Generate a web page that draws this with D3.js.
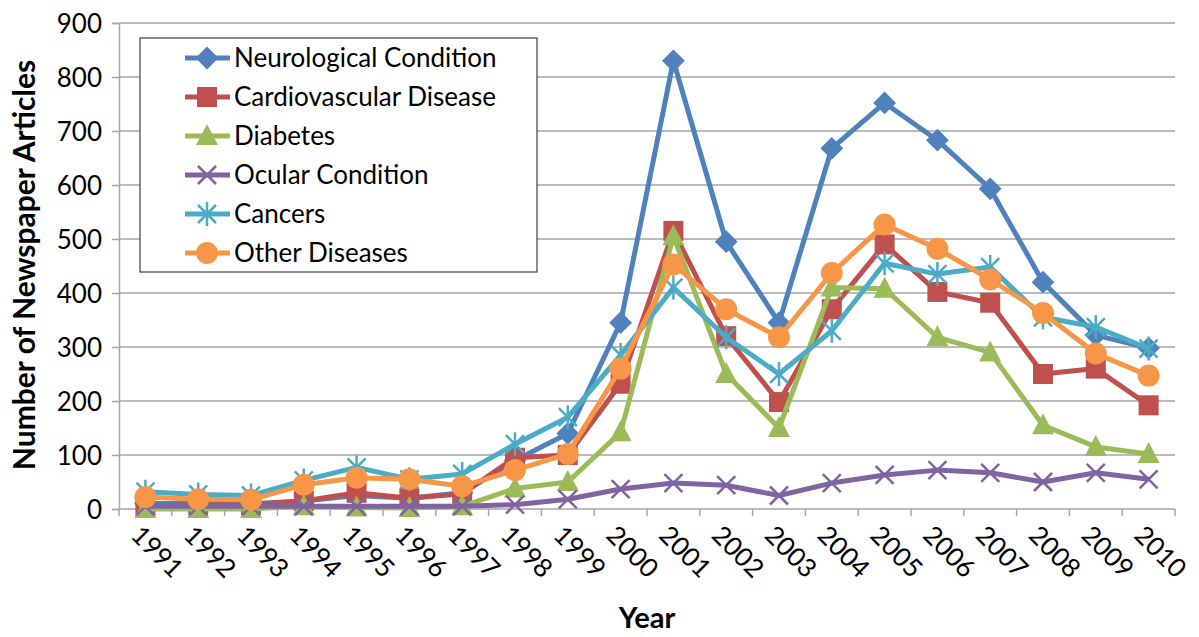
<!DOCTYPE html>
<html>
<head>
<meta charset="utf-8">
<script src="https://cdn.jsdelivr.net/npm/d3@7"></script>
<style>
  body { margin: 0; background: #fff; }
  text { font-family: Lato, "Open Sans", sans-serif; fill: #000; }
</style>
</head>
<body>
<div id="chart-area"></div>
<script>
// data
var years = ["1991","1992","1993","1994","1995","1996","1997","1998","1999","2000",
             "2001","2002","2003","2004","2005","2006","2007","2008","2009","2010"];
var neuro    = [10,10,10,15,25,20,30,90,140,345,830,495,345,668,752,683,593,420,322,298];
var cardio   = [5,8,8,15,30,20,28,95,100,232,515,320,198,370,490,402,382,250,260,192];
var diabetes = [0,0,0,5,3,2,5,38,50,142,505,250,150,410,408,318,290,155,115,102];
var ocular   = [5,5,5,5,5,5,5,8,18,37,48,44,25,48,63,72,67,50,67,55];
var cancers  = [32,27,25,53,77,55,65,120,170,285,410,318,250,330,455,435,448,355,337,297];
var other    = [22,18,17,45,58,55,42,72,102,260,453,370,318,437,527,482,425,363,288,247];
var yTicks = [0,100,200,300,400,500,600,700,800,900];

var series = [
  {name: "Neurological Condition", values: neuro,    color: "#4F81BD", marker: "diamond"},
  {name: "Cardiovascular Disease", values: cardio,   color: "#C0504D", marker: "square"},
  {name: "Diabetes",               values: diabetes, color: "#9BBB59", marker: "triangle"},
  {name: "Ocular Condition",       values: ocular,   color: "#8064A2", marker: "x"},
  {name: "Cancers",                values: cancers,  color: "#4BACC6", marker: "star"},
  {name: "Other Diseases",         values: other,    color: "#F79646", marker: "circle"}
];

var width = 1199, height = 637;
var pLeft = 119, pRight = 1175, pTop = 23, pBottom = 509;

var svg = d3.select("#chart-area").append("svg")
  .attr("width", width)
  .attr("height", height);

var x = d3.scaleBand().domain(years).range([pLeft, pRight]);
var y = d3.scaleLinear().domain([0, 900]).range([pBottom, pTop]);

// gridlines
svg.append("g").selectAll("line")
  .data(yTicks.slice(1))
  .enter().append("line")
    .attr("x1", pLeft).attr("x2", pRight)
    .attr("y1", function(d){ return y(d); })
    .attr("y2", function(d){ return y(d); })
    .style("stroke", "#a6a6a6")
    .style("stroke-width", 1.5);

// y axis
var yAxis = svg.append("g")
  .attr("transform", "translate(" + pLeft + ",0)")
  .call(d3.axisLeft(y).tickValues(yTicks).tickSize(7).tickPadding(10));
yAxis.selectAll("text").style("font-size", "26px").attr("dy", "0.35em");
yAxis.select(".domain").style("stroke", "#a6a6a6").style("stroke-width", 1.5);
yAxis.selectAll(".tick line").style("stroke", "#a6a6a6").style("stroke-width", 1.5);

// x axis, ticks between categories
var xAxis = svg.append("g")
  .attr("transform", "translate(0," + pBottom + ")");
xAxis.append("line")
  .attr("x1", pLeft).attr("x2", pRight)
  .style("stroke", "#a6a6a6").style("stroke-width", 1.5);
xAxis.selectAll(".tk")
  .data(d3.range(years.length + 1))
  .enter().append("line")
    .attr("class", "tk")
    .attr("x1", function(i){ return pLeft + i * x.bandwidth(); })
    .attr("x2", function(i){ return pLeft + i * x.bandwidth(); })
    .attr("y1", 0).attr("y2", 7)
    .style("stroke", "#a6a6a6").style("stroke-width", 1.5);
xAxis.selectAll(".lbl")
  .data(years)
  .enter().append("text")
    .attr("class", "lbl")
    .attr("transform", function(d){
      return "translate(" + (x(d) + x.bandwidth()/2 - 3) + ",15) rotate(45)";
    })
    .attr("dy", "0.7em")
    .style("font-size", "26px")
    .text(function(d){ return d; });

// axis titles
svg.append("text")
  .attr("transform", "translate(35," + 265 + ") rotate(-90)")
  .attr("text-anchor", "middle")
  .style("font-size", "30px").style("font-weight", "bold")
  .text("Number of Newspaper Articles");
svg.append("text")
  .attr("x", 647).attr("y", 628)
  .attr("text-anchor", "middle")
  .style("font-size", "29px").style("font-weight", "bold")
  .text("Year");

// marker drawing
function drawMarker(g, type, color) {
  if (type === "diamond") {
    g.append("path").attr("d", d3.symbol().type(d3.symbolDiamond2).size(330)()).style("fill", color);
  } else if (type === "square") {
    g.append("rect").attr("x", -10).attr("y", -10).attr("width", 20).attr("height", 20).style("fill", color);
  } else if (type === "triangle") {
    g.append("path").attr("d", "M0,-12L11,9L-11,9Z").style("fill", color);
  } else if (type === "x") {
    g.append("path").attr("d", "M-9,-9L9,9M-9,9L9,-9").style("stroke", color).style("stroke-width", 2.5).style("fill", "none");
  } else if (type === "star") {
    g.append("path").attr("d", "M-9,-9L9,9M-9,9L9,-9M0,-12L0,12").style("stroke", color).style("stroke-width", 2.5).style("fill", "none");
  } else {
    g.append("circle").attr("r", 11).style("fill", color);
  }
}

var line = d3.line()
  .x(function(d, i){ return x(years[i]) + x.bandwidth()/2; })
  .y(function(d){ return y(d); });

series.forEach(function(s){
  var g = svg.append("g");
  g.append("path")
    .datum(s.values)
    .attr("d", line)
    .style("fill", "none")
    .style("stroke", s.color)
    .style("stroke-width", 5)
    .style("stroke-linejoin", "round");
  g.selectAll(".m")
    .data(s.values)
    .enter().append("g")
      .attr("class", "m")
      .attr("transform", function(d, i){
        return "translate(" + (x(years[i]) + x.bandwidth()/2) + "," + y(d) + ")";
      })
      .each(function(){ drawMarker(d3.select(this), s.marker, s.color); });
});

// legend
var legend = svg.append("g");
legend.append("rect")
  .attr("x", 140).attr("y", 38).attr("width", 397).attr("height", 234)
  .style("fill", "#fff").style("stroke", "#404040").style("stroke-width", 1.2);
series.forEach(function(s, i){
  var yy = 58 + i * 39;
  legend.append("line")
    .attr("x1", 185).attr("x2", 230).attr("y1", yy).attr("y2", yy)
    .style("stroke", s.color).style("stroke-width", 5);
  var m = legend.append("g").attr("transform", "translate(207," + yy + ")");
  drawMarker(m, s.marker, s.color);
  legend.append("text")
    .attr("x", 234).attr("y", yy).attr("dy", "0.35em")
    .style("font-size", "26px")
    .text(s.name);
});
</script>
</body>
</html>
